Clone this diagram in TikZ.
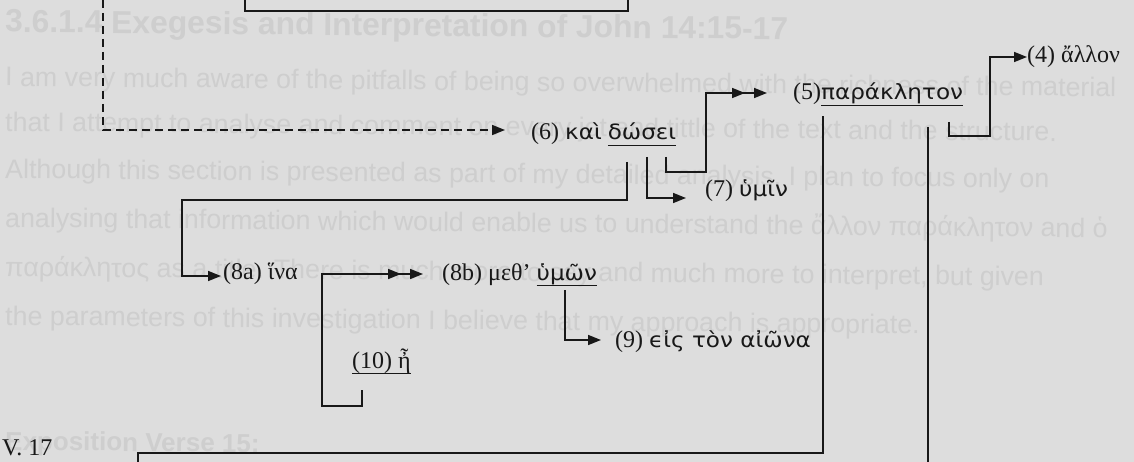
\documentclass[tikz,border=0pt]{standalone}
\usepackage{fontspec}
\setmainfont{Liberation Serif}
\newfontfamily\ghostfont{Liberation Sans}
\newfontfamily\grk[FakeStretch=1.1]{DejaVu Sans}
\usetikzlibrary{arrows.meta,decorations.markings}

\definecolor{pagebg}{RGB}{221,221,221}
\definecolor{ghost}{RGB}{206,206,206}
\definecolor{ink}{RGB}{24,24,24}

% underline drawn just below the baseline, independent of descenders
\newcommand\ulword[1]{\leavevmode\setbox0\hbox{#1}\rlap{\rule[-6pt]{\wd0}{1.4pt}}\box0}
% Greek words set in the monoline face
\newcommand\gw[1]{{\grk\fontsize{21}{26}\selectfont #1}}

\begin{document}
\begin{tikzpicture}[x=1pt,y=-1pt,
  conn/.style={draw=ink,line width=1.6pt,line join=miter,-{Triangle[length=13pt,width=10pt]}},
  plain/.style={draw=ink,line width=1.6pt,line join=miter},
  dbl/.style={postaction={decorate,decoration={markings,
      mark=at position -22pt with {\arrow[ink]{Triangle[length=13pt,width=10pt]}}}}},
  lbl/.style={anchor=base west,inner sep=0pt,text=ink,font=\fontsize{24}{28}\selectfont},
  ghosttext/.style={anchor=base west,inner sep=0pt,text=ghost,rotate=-0.55,
      font=\ghostfont\fontsize{26.8}{32}\selectfont},
  ghosthead/.style={ghosttext,font=\ghostfont\bfseries\fontsize{31.8}{37}\selectfont},
  ghostsub/.style={ghosttext,font=\ghostfont\bfseries\fontsize{26}{31}\selectfont}]

\fill[pagebg] (0,0) rectangle (1134,462);
\useasboundingbox (0,0) rectangle (1134,462);

% faint text showing through the page
\node[ghosthead] (g0) at (5,32) {3.6.1.4 Exegesis and Interpretation of John 14:15-17};
\node[ghosttext] (g1) at (5,86) {I am very much aware of the pitfalls of being so overwhelmed with the richness of the material};
\node[ghosttext] (g2) at (5,131) {that I attempt to analyse and comment on every jot and tittle of the text and the structure.};
\node[ghosttext] (g3) at (5,178) {Although this section is presented as part of my detailed analysis, I plan to focus only on};
\node[ghosttext] (g4) at (5,227) {analysing that information which would enable us to understand the ἄλλον παράκλητον and ὁ};
\node[ghosttext] (g5) at (5,276) {παράκλητος as a title. There is much more to say and much more to interpret, but given};
\node[ghosttext] (g6) at (5,325) {the parameters of this investigation I believe that my approach is appropriate.};
\node[ghostsub] (g7) at (5,450) {Exposition Verse 15:};

% labels
\node[lbl] (n4)  at (1027,63)  {(4) ἄλλον};
\node[lbl] (n5)  at (793,100)  {(5)\ulword{\gw{παράκλητον}}};
\node[lbl] (n6)  at (531,140)  {(6) \gw{καὶ} \ulword{\gw{δώσει}}};
\node[lbl] (n7)  at (705,197)  {(7) \gw{ὑμῖν}};
\node[lbl] (n8a) at (223,279)  {(8a) ἵνα};
\node[lbl] (n8b) at (442,280)  {(8b) μεθ’ \ulword{\gw{ὑμῶν}}};
\node[lbl] (n9)  at (615,347)  {(9) \gw{ϵἰς τὸν αἰῶνα}};
\node[lbl] (n10) at (352,368)  {\ulword{(10) ἦ}};
\node[lbl] (nV)  at (2,455)    {V. 17};

% connector ends and corners
\coordinate (dA) at (103,0);    \coordinate (dE) at (505,130);
\coordinate (tA) at (245,0);    \coordinate (tL) at (245,11);
\coordinate (tR) at (628,11);   \coordinate (tB) at (628,0);
\coordinate (s5) at (666,157);  \coordinate (k5) at (706,172);  \coordinate (e5) at (767,93);
\coordinate (s7) at (647,157);  \coordinate (e7) at (686,198);
\coordinate (s8a) at (627,162); \coordinate (k8a) at (182,200); \coordinate (e8a) at (221,276);
\coordinate (s8b) at (362,390); \coordinate (k8b) at (322,406); \coordinate (e8b) at (423,274);
\coordinate (s9) at (565,290);  \coordinate (e9) at (601,340);
\coordinate (s4) at (949,122);  \coordinate (k4) at (990,136);  \coordinate (e4) at (1027,57);
\coordinate (sB) at (138,462);  \coordinate (kB) at (823,453);  \coordinate (eB) at (823,116);
\coordinate (vA) at (928,127);  \coordinate (vB) at (928,462);

% connectors
\draw[conn,dashed,dash pattern=on 8pt off 5pt] (dA) |- (dE);
\draw[plain] (tA) -- (tL) -- (tR) -- (tB);
\draw[conn,dbl] (s5) |- (k5) |- (e5);
\draw[conn] (s7) |- (e7);
\draw[conn] (s8a) |- (k8a) |- (e8a);
\draw[conn,dbl] (s8b) |- (k8b) |- (e8b);
\draw[conn] (s9) |- (e9);
\draw[conn] (s4) |- (k4) |- (e4);
\draw[plain] (sB) |- (kB) -- (eB);
\draw[plain] (vA) -- (vB);
\end{tikzpicture}
\end{document}
